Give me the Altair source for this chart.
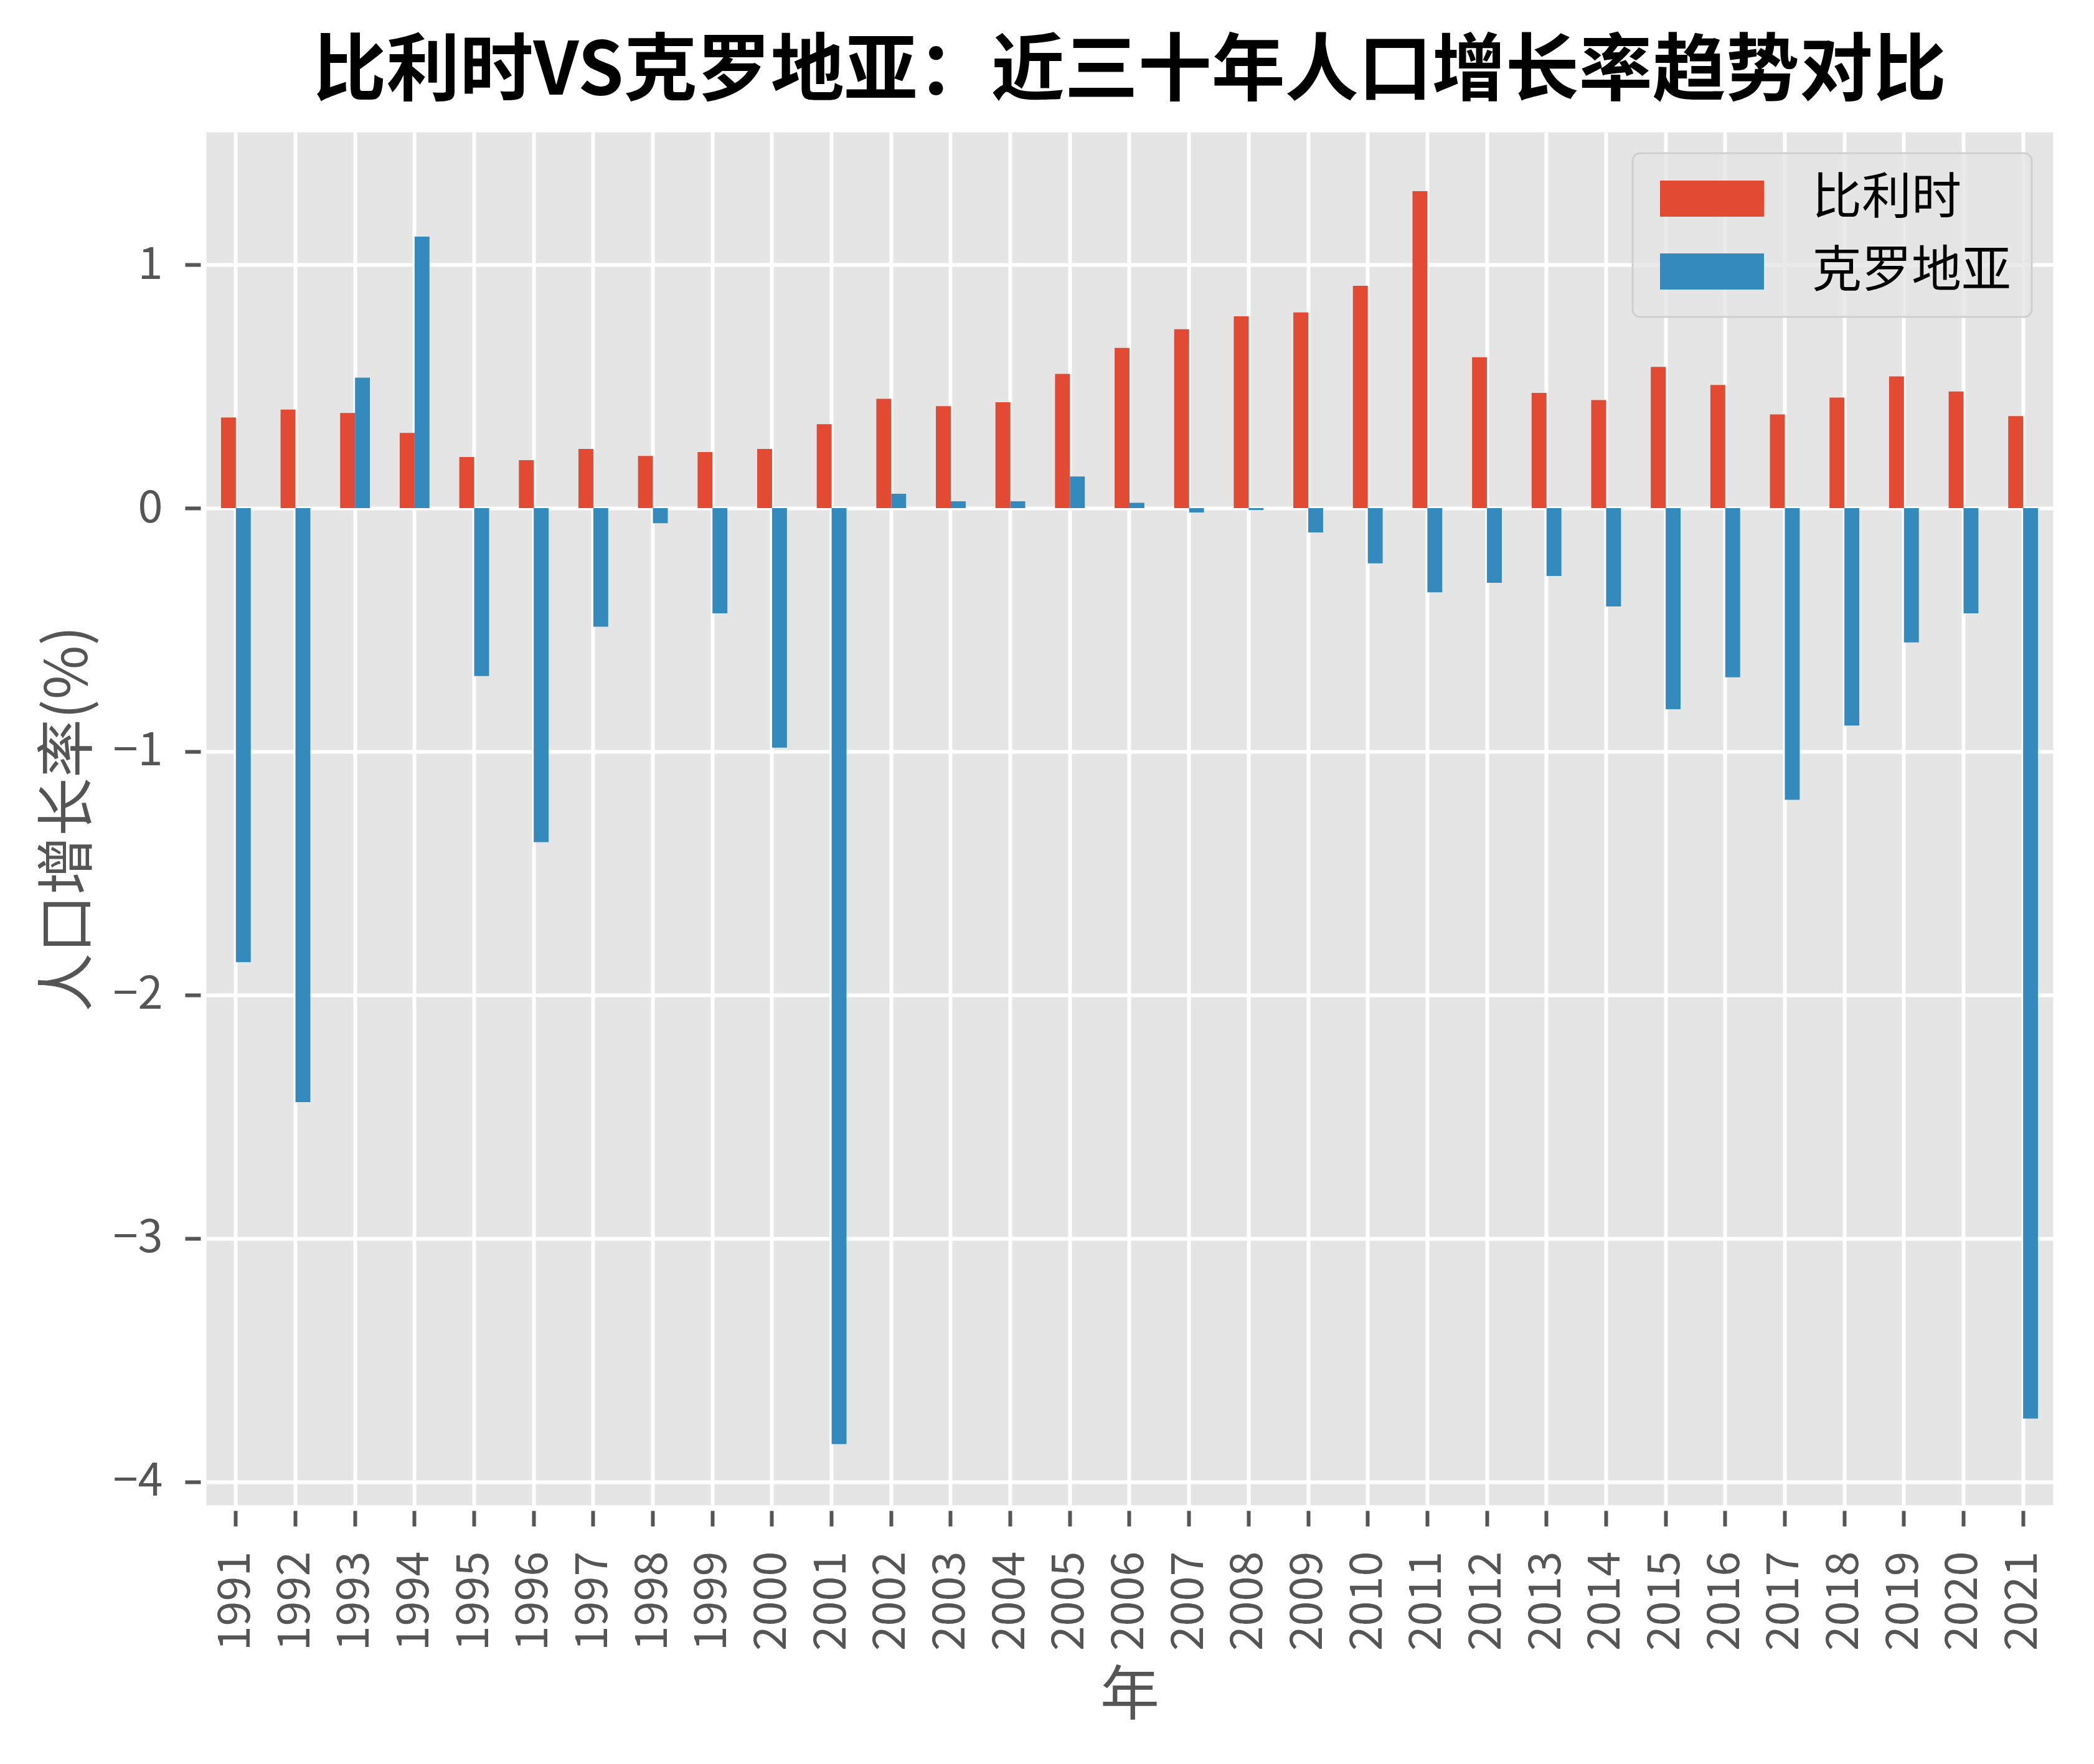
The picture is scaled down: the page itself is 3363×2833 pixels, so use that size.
import altair as alt
import pandas as pd

years = [str(y) for y in range(1991, 2022)]
belgium = [0.372, 0.405, 0.391, 0.309, 0.210, 0.197, 0.243, 0.214, 0.230, 0.243,
           0.345, 0.449, 0.419, 0.435, 0.551, 0.658, 0.735, 0.788, 0.804, 0.913,
           1.302, 0.620, 0.473, 0.444, 0.580, 0.506, 0.385, 0.454, 0.541, 0.479, 0.378]
croatia = [-1.865, -2.440, 0.536, 1.115, -0.690, -1.372, -0.487, -0.062, -0.432, -0.984,
           -3.845, 0.059, 0.028, 0.028, 0.130, 0.022, -0.018, -0.008, -0.100, -0.227,
           -0.346, -0.307, -0.279, -0.404, -0.826, -0.695, -1.198, -0.893, -0.552, -0.432, -3.740]
series = ["比利时", "克罗地亚"]
colors = ["#E24A33", "#348ABD"]
y_ticks = [-4, -3, -2, -1, 0, 1]

rows = []
for i, yr in enumerate(years):
    rows.append({"年": yr, "国家": series[0], "增长率": belgium[i]})
    rows.append({"年": yr, "国家": series[1], "增长率": croatia[i]})
df = pd.DataFrame(rows)

FONT = "Noto Sans CJK SC"
GRAY = "#555555"

chart = alt.Chart(df).mark_bar().encode(
    x=alt.X(
        "年:N", sort=years,
        scale=alt.Scale(paddingInner=0, paddingOuter=0),
        axis=alt.Axis(
            title="年", bandPosition=0.5, labelAngle=270, labelAlign="right",
            labelBaseline="middle", labelPadding=40, labelFontSize=72, labelColor=GRAY,
            labelFont=FONT, tickSize=25, tickWidth=6, tickColor=GRAY, grid=True,
            gridColor="white", gridWidth=6, domain=False, offset=9,
            titleFontSize=95, titleColor=GRAY, titleFont=FONT, titleFontWeight="normal",
            titleY=298, titleBaseline="middle",
        ),
    ),
    xOffset=alt.XOffset("国家:N", sort=series,
                        scale=alt.Scale(paddingInner=0, paddingOuter=1)),
    y=alt.Y(
        "增长率:Q", stack=None,
        scale=alt.Scale(domain=[-4.095, 1.545], nice=False, zero=False),
        axis=alt.Axis(
            title="人口增长率(%)", values=y_ticks,
            labelExpr="datum.value < 0 ? '−' + format(-datum.value, 'd') : format(datum.value, 'd')",
            labelPadding=36, labelFontSize=72, labelColor=GRAY, labelFont=FONT,
            tickSize=25, tickWidth=6, tickColor=GRAY, grid=True, gridColor="white",
            gridWidth=6, domain=False, offset=9,
            titleFontSize=94, titleColor=GRAY, titleFont=FONT, titleFontWeight="normal",
            titleX=-211, titleBaseline="middle",
        ),
    ),
    color=alt.Color(
        "国家:N", sort=series,
        scale=alt.Scale(domain=series, range=colors),
        legend=alt.Legend(
            title=None, orient="top-right", offset=34, padding=33,
            fillColor="rgba(229,229,229,0.8)", strokeColor="#CFCFCF", cornerRadius=12,
            symbolType="M-1,-1L4.76,-1L4.76,1L-1,1Z", symbolSize=3364,
            symbolStrokeWidth=0, symbolOpacity=1, labelFontSize=80, labelColor="black",
            labelFont=FONT, labelOffset=175, rowPadding=37, labelLimit=1000,
        ),
    ),
).properties(
    width=2966,
    height=2205,
    title="比利时VS克罗地亚：近三十年人口增长率趋势对比",
    autosize=alt.AutoSizeParams(type="none"),
    padding={"left": 323, "top": 204, "right": 58, "bottom": 400},
).configure_view(
    fill="#E5E5E5", stroke="transparent"
).configure_title(
    font=FONT, fontSize=118, color="black", anchor="middle", offset=35, fontWeight="bold"
).configure_legend(
    strokeWidth=3
)

chart.save("out.html", embed_options={"renderer": "svg", "actions": False})
